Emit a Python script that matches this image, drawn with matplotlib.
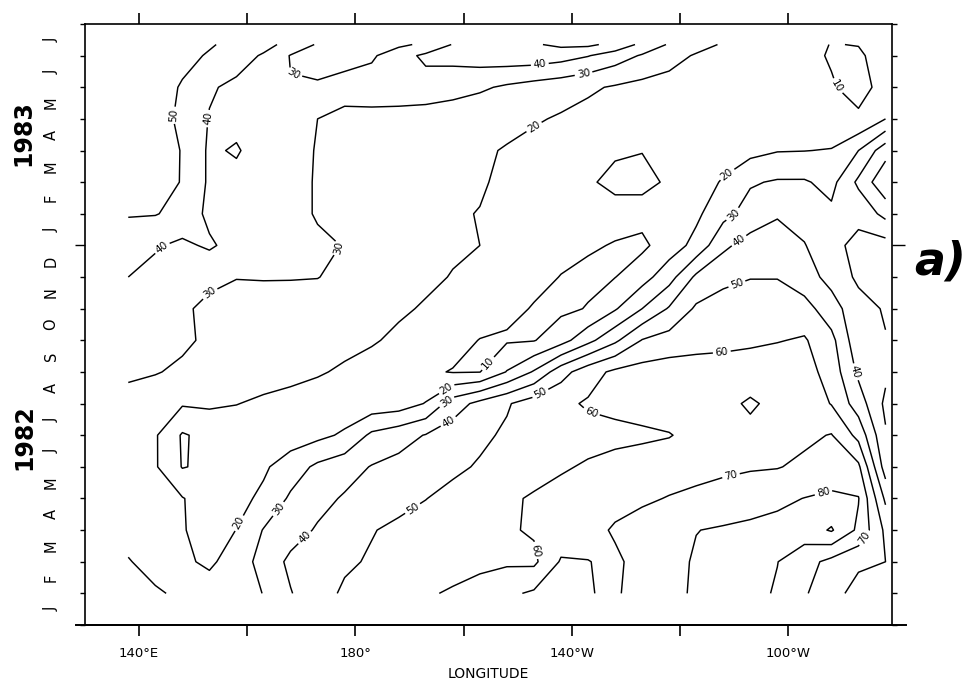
import numpy as np
import matplotlib
matplotlib.use("Agg")
import matplotlib.pyplot as plt

# grid: longitude (deg E) and time (months after 1 Jan 1982)
lons = np.arange(138, 279, 5)
times = [1, 2, 3, 4, 5, 6, 7, 8, 9, 10, 11, 12, 13, 14, 15, 16, 17, 18, 18.35]

# one row of values per time, west -> east
feb82 = [36, 32, 27, 24, 26.5, 30.2, 39.5, 46, 51.5, 54, 56.5, 59, 61, 64, 68, 71.5, 73, 70.5, 68.5, 75, 78, 81, 84, 83, 79, 71, 64, 56, 58]
mar82 = [31, 24, 21.5, 18.5, 24, 34, 42, 46, 48.5, 51, 53, 55, 56.5, 57.5, 58.5, 58, 71, 70.2, 68.5, 73, 77, 81, 83, 82, 80.2, 74, 67, 62, 60]
apr82 = [24, 22, 21, 14, 20.2, 30.5, 36, 41, 45, 49.5, 52, 54, 56, 58, 59, 61, 64, 67, 71, 74, 77, 79.8, 81, 82, 83, 85, 91, 78, 58]
may82 = [25, 22, 20.5, 15, 17, 22, 31.5, 37, 41, 44, 47, 49.8, 53, 56, 58.5, 61, 63, 65, 67, 68.5, 70.5, 72, 74, 76, 78, 80.2, 82, 80.5, 48]
jun82 = [26, 21, 9.5, 12, 14, 18.5, 25, 32, 36, 40.5, 43, 45.5, 48, 51, 54, 56.5, 59, 61, 62.5, 64, 65.5, 67, 68, 69, 69.5, 72, 74, 72, 35]
jul82 = [28, 21, 9, 13, 13.5, 14, 15, 17.5, 21.5, 32, 36, 40.5, 45, 48, 51.5, 54, 56, 57, 58, 58.5, 59.5, 63, 66, 68, 68, 68, 70.5, 57, 31]
aug82 = [28, 25, 21, 21.5, 20.3, 18, 16, 15, 14, 14, 15, 20.5, 35, 43, 49, 55, 58, 61, 62, 63.5, 65, 66, 68, 71, 68, 67, 59.5, 45, 28]
sep82 = [31, 30.5, 28.5, 27, 26.5, 25, 23.5, 21, 18.5, 16, 13.5, 11.5, 9.5, 9.8, 20.5, 31, 46, 56, 62, 64, 65, 65, 65, 66, 66, 64, 56, 38, 32]
oct82 = [36, 34, 31.5, 28.5, 27, 26, 25, 24, 23, 21, 18, 15.5, 13.5, 9.7, 9, 9.5, 16, 27, 38, 50.5, 54, 56, 57, 58, 59.5, 61, 53, 33, 30.5]
nov82 = [38, 35, 31, 28.5, 27.5, 27, 26.5, 26, 25, 23.5, 21.5, 19, 17, 15, 12, 9.5, 8, 10.5, 19, 30, 41, 51.5, 55, 57, 57, 54, 44, 34, 29]
dec82 = [40, 37, 34, 31.5, 30.2, 30.4, 30.4, 30.2, 28, 26, 24, 22, 19.5, 17, 14, 12, 9.8, 8, 9.8, 16, 26, 42, 47, 49.5, 49.5, 44, 37, 28, 26]
jan83 = [42, 41, 38, 41.5, 36, 34, 32.5, 31, 29.8, 27, 25, 23, 21.5, 20, 17, 14, 12, 11, 9.5, 8, 15, 23, 38, 44, 45, 40.5, 33, 27, 26]
feb83 = [51, 50.5, 47, 37.5, 36, 34.5, 32, 29.5, 27, 25.5, 24, 22.5, 21, 19.7, 17, 15, 14, 13, 13, 13, 15, 18, 27, 34, 39, 36, 32, 33, 43]
mar83 = [54, 54, 49.5, 38.5, 37, 35, 32, 29.5, 27, 26, 25, 24, 22.5, 21, 18, 15, 13, 11, 8, 8, 11, 15, 21, 29, 31, 31, 27, 42, 58]
apr83 = [54, 55, 49.5, 38.5, 41, 35, 33, 29.5, 27, 26, 25, 24, 22.5, 21, 19.5, 17, 15, 13, 11, 10.2, 11, 13, 15, 17, 19.5, 19.8, 20.5, 30, 46]
may83 = [54, 54, 48, 39.5, 37, 35, 32.5, 30, 28, 27, 26, 25, 24, 23, 22, 21, 19, 17, 15, 14, 13, 13, 13, 13, 14, 15, 13, 11, 20]
jun83 = [55, 55, 49, 41, 38, 33, 30.4, 30.6, 33, 35, 36, 36, 34, 31.5, 28.5, 26, 24, 21.5, 19, 17, 16, 15, 15, 14, 13, 12, 10.5, 8, 12]
jul83 = [56, 55, 53, 49, 44, 39, 29.5, 28, 27, 28.5, 36, 42, 43, 45, 46, 46, 44, 40.5, 35, 29, 23.8, 19, 17, 15, 13, 11.5, 9.5, 9, 13]
jul83_late = [56, 56, 54, 51, 47, 43, 37, 29, 27, 26, 28, 32, 40.5, 43, 46, 49, 52, 52, 47, 37.5, 29, 23.7, 19, 17, 15, 12, 9.8, 10.2, 14]

levels = [10, 20, 30, 40, 50, 60, 70, 80, 90]
month_letters = list("JFMAMJJASONDJFMAMJJ")
lon_ticks = [140, 160, 180, 200, 220, 240, 260]
lon_labels = ["140°E", "", "180°", "", "140°W", "", "100°W"]

# where the contour labels sit (lon, months)
label_spots = {
    10: [(268.5, 17.0), (204.3, 8.3)],
    20: [(212.8, 15.8), (248.9, 14.2), (197.1, 7.4), (158.7, 3.2)],
    30: [(167.9, 17.0), (222.1, 17.5), (250.2, 12.9), (177.2, 11.9), (151.3, 10.8), (196.9, 7.05), (165.5, 3.7)],
    40: [(153.1, 16.0), (214.1, 17.7), (250.7, 12.2), (144.4, 11.9), (196.6, 6.6), (272.4, 8.0), (169.8, 2.9)],
    50: [(147.0, 16.1), (250.7, 10.7), (213.6, 7.5), (190.5, 3.7)],
    60: [(223.9, 6.9), (247.8, 8.5), (214.7, 2.4)],
    70: [(249.6, 4.6), (274.6, 2.7)],
    80: [(266.5, 4.2)],
}

z = np.array([feb82, mar82, apr82, may82, jun82, jul82, aug82, sep82, oct82, nov82,
              dec82, jan83, feb83, mar83, apr83, may83, jun83, jul83, jul83_late])

fig = plt.figure(figsize=(9.7, 6.85), dpi=100)
ax = fig.add_axes([85 / 970, 60 / 685, 807 / 970, 601 / 685])

# one contour set per level so each label lands on its own line
for lev in levels:
    cs = ax.contour(lons, times, z, levels=[lev], colors="black", linewidths=1.05)
    if lev in label_spots:
        ax.clabel(cs, manual=label_spots[lev], inline=True, fmt="%d",
                  fontsize=7.5, inline_spacing=3)

ax.set_xlim(130, 279.2)
ax.set_ylim(0, 19)
for sp in ax.spines.values():
    sp.set_linewidth(1.2)
# the bottom axis line runs a little past the frame, as in the original
ax.plot([-0.011, 1.017], [0, 0], transform=ax.transAxes, color="black",
        lw=1.4, clip_on=False)

ax.set_xticks(lon_ticks)
ax.set_xticklabels(lon_labels, fontsize=9.5)
ax.tick_params(axis="x", which="major", direction="out", length=8, width=1.2,
               pad=8, top=True)
ax.set_xlabel("LONGITUDE", fontsize=10, labelpad=5)

ax.set_yticks(np.arange(0, 20))
ax.set_yticklabels([])
ax.set_yticks(np.arange(19) + 0.5, minor=True)
ax.set_yticklabels(month_letters, minor=True, rotation=90, fontsize=10.5, va="center")
ax.tick_params(axis="y", which="major", direction="out", length=3.6, width=1,
               left=True, right=True)
ax.tick_params(axis="y", which="minor", length=0, pad=19)
jan = ax.yaxis.get_major_ticks()[12]
jan.tick1line.set_markersize(7.5)
jan.tick2line.set_markersize(9.5)

fig.text(23 / 970, 1 - 133 / 685, "1983", rotation=90, ha="center", va="center",
         fontsize=17, fontweight="bold")
fig.text(24 / 970, 1 - 437 / 685, "1982", rotation=90, ha="center", va="center",
         fontsize=17, fontweight="bold")
fig.text(966 / 970, 1 - 262 / 685, "a)", ha="right", va="center", fontsize=33,
         fontweight="bold", fontstyle="italic")

fig.savefig("out.png", dpi=100)
